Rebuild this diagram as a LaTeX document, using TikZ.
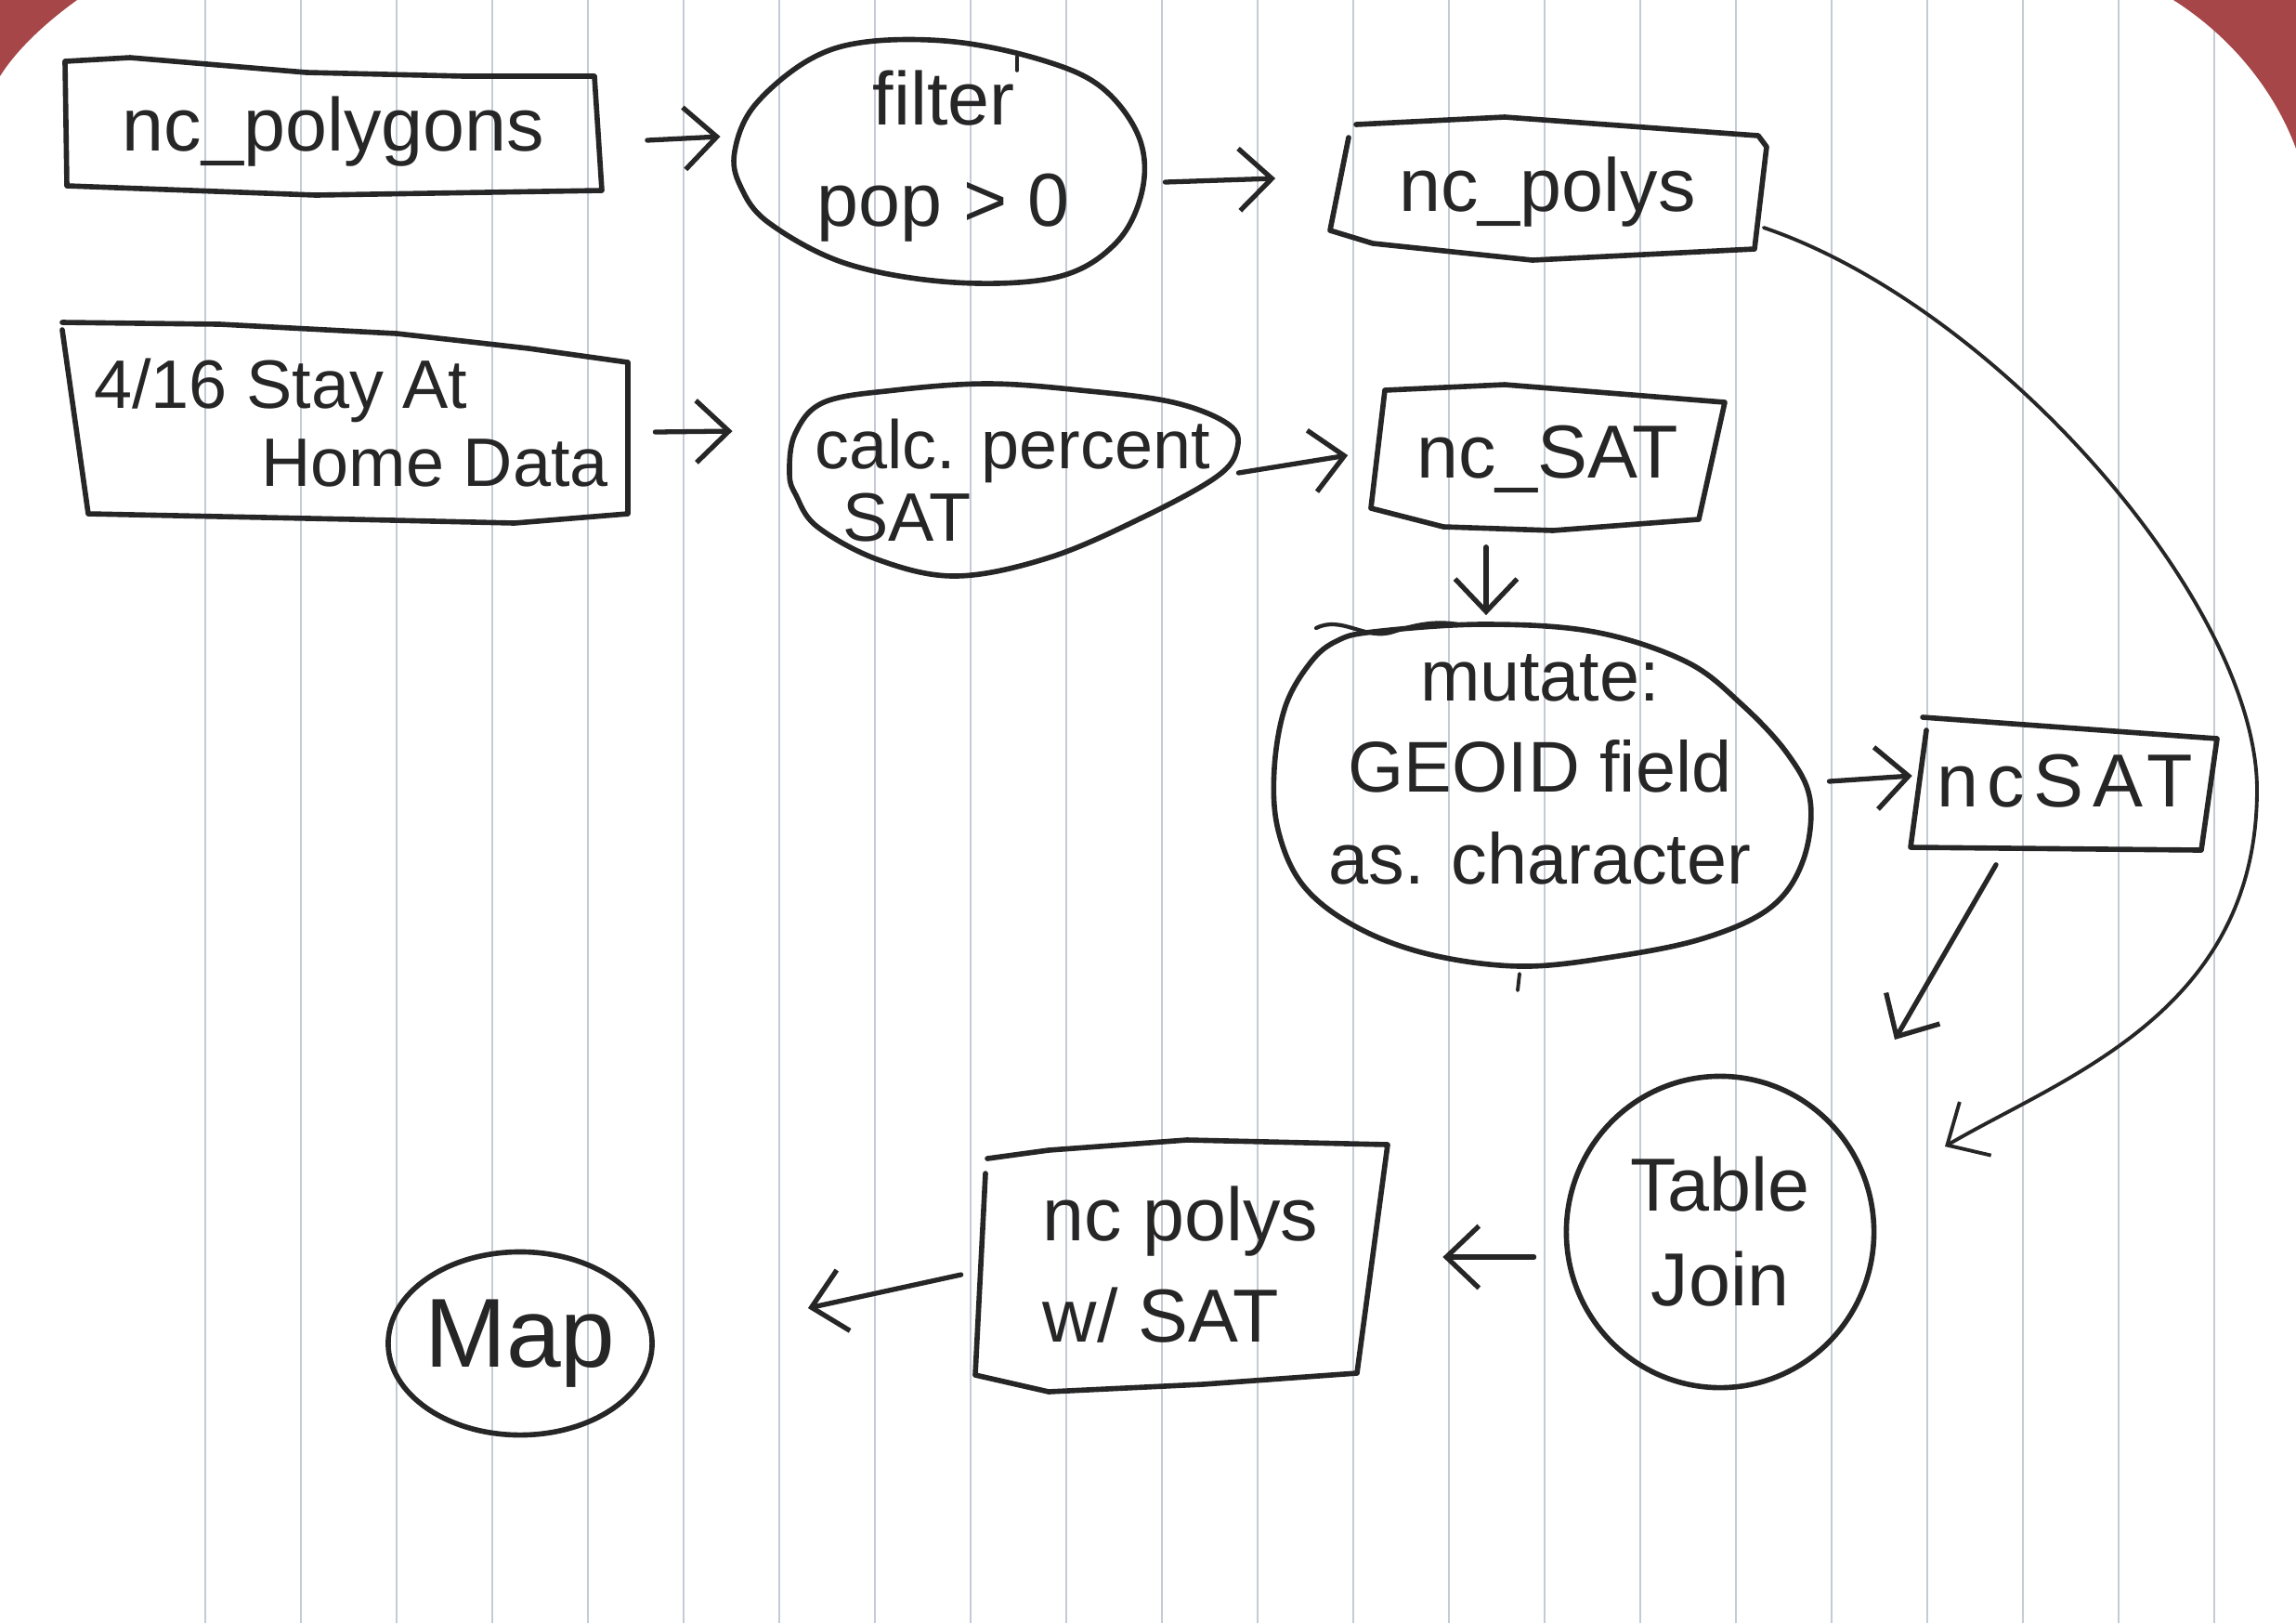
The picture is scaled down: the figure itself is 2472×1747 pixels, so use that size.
\documentclass[tikz,border=0pt]{standalone}
\usepackage{fontspec}
\setmainfont{Liberation Sans}
\usetikzlibrary{shapes.geometric,arrows.meta,calc}
\definecolor{ink}{RGB}{38,38,38}
\definecolor{rulecol}{RGB}{196,202,214}
\definecolor{deskred}{RGB}{166,70,72}
\begin{document}
\begin{tikzpicture}[x=0.01cm,y=-0.01cm,
  pen/.style={draw=ink, line width=1.6pt, line join=round, line cap=round},
  boxnode/.style={rectangle, inner sep=0pt, text=ink},
  blobnode/.style={pen, ellipse, inner sep=-1.5cm, text=ink},
  txt/.style={font=\fontsize{23}{29}\selectfont},
  arr/.style={draw=ink, line width=1.5pt, line cap=round, line join=round, -{Straight Barb[length=10pt,width=19pt]}},
  ruling/.style={draw=rulecol, line width=0.6pt}]
\useasboundingbox (0,0) rectangle (2472,1747);
\fill[white] (0,0) rectangle (2472,1747);
\foreach \k in {0,...,21} \draw[ruling] ({221+103*\k},0) -- ({221+103*\k},1747);
\fill[deskred] (0,0) -- (83,0) .. controls (55,20) and (20,50) .. (0,82) -- cycle;
\fill[deskred] (2340,0) .. controls (2400,38) and (2448,95) .. (2472,160) -- (2472,0) -- cycle;

% nodes (text holders; outlines drawn by hand below)
\node[boxnode, txt, align=center, minimum width=5.78cm, minimum height=1.30cm] (ncpolygons) at (359,142) {nc\_polygons};
\node[blobnode, draw=none, align=center, font=\fontsize{23}{31}\selectfont, minimum width=4.43cm, minimum height=2.63cm] (filter) at (1016,168) {filter\\pop > 0};
\node[boxnode, txt, align=center, minimum width=4.70cm, minimum height=1.40cm] (ncpolys) at (1666,207) {nc\_polys};
\node[boxnode, align=left, font=\fontsize{21}{24}\selectfont, minimum width=6.17cm, minimum height=2.14cm] (stay) at (378,455) {4/16 Stay At\\\hspace*{1.8cm}Home Data};
\node[blobnode, draw=none, align=left, font=\fontsize{21}{22}\selectfont, minimum width=4.85cm, minimum height=2.09cm] (calc) at (1090,517) {calc. percent\\\hspace*{0.3cm}SAT};
\node[boxnode, txt, align=center, minimum width=3.90cm, minimum height=1.50cm] (ncsat) at (1666,494) {nc\_SAT};
\node[blobnode, draw=none, align=center, font=\fontsize{22}{28}\selectfont, minimum width=5.87cm, minimum height=3.70cm] (mutate) at (1658,828) {mutate:\\GEOID field\\as. character};
\node[boxnode, txt, align=center, minimum width=3.31cm, minimum height=1.46cm] (ncsat2) at (2223,841) {\addfontfeature{LetterSpace=12}ncSAT};
\node[blobnode, txt, align=center, minimum width=3.31cm, minimum height=3.35cm] (tablejoin) at (1852,1326) {Table\\Join};
\node[boxnode, align=left, font=\fontsize{23}{31}\selectfont, minimum width=4.53cm, minimum height=2.57cm] (polysat) at (1271,1361) {nc polys\\w/ SAT};
\node[blobnode, align=center, font=\fontsize{30}{36}\selectfont, minimum width=2.84cm, minimum height=1.97cm] (map) at (560,1446) {Map};

% hand-drawn outlines
\draw[pen] (70,66) -- (140,62) -- (330,78) -- (500,82) -- (640,82) -- (648,205) -- (340,210) -- (72,200) -- cycle;
\draw[pen] plot[smooth cycle, tension=0.6] coordinates {(791,163) (812,114) (870,65) (933,45) (1028,45) (1123,65) (1186,94) (1226,147) (1230,204) (1202,261) (1139,298) (1028,304) (912,284) (828,240) (797,200)};
\draw[pen] (1460,134) -- (1620,126) -- (1893,146) -- (1902,158) -- (1889,268) -- (1650,280) -- (1478,262) -- (1432,248) -- (1452,148);
\draw[pen] (67,347) -- (237,349) -- (427,359) -- (569,375) -- (676,390) -- (676,553) -- (554,563) -- (380,559) -- (95,553) -- (67,355);
\draw[pen] plot[smooth cycle, tension=0.6] coordinates {(850,510) (856,467) (887,433) (963,420) (1063,413) (1163,420) (1263,433) (1323,457) (1332,483) (1310,513) (1230,557) (1130,600) (1030,620) (947,603) (880,567) (857,533)};
\draw[pen] (1491,420) -- (1620,414) -- (1857,433) -- (1829,559) -- (1672,571) -- (1554,567) -- (1476,547) -- cycle;
\draw[pen] plot[smooth cycle, tension=0.6] coordinates {(1479,680) (1597,672) (1716,680) (1815,712) (1875,758) (1925,812) (1949,862) (1941,927) (1906,977) (1834,1010) (1736,1030) (1637,1040) (1538,1027) (1459,997) (1403,953) (1376,893) (1372,827) (1384,760) (1411,713) (1439,690)};
\draw[pen] (2070,772) -- (2387,795) -- (2370,915) -- (2057,912) -- (2074,786);
\draw[pen] (1063,1247) -- (1129,1238) -- (1278,1227) -- (1494,1232) -- (1461,1478) -- (1295,1490) -- (1129,1498) -- (1050,1480) -- (1061,1263);

% connectors
\draw[arr] ($(ncpolygons.east)+(48,9)$) -- ($(filter.west)+(-16,-21)$);
\draw[arr] ($(filter.east)+(14,28)$) -- ($(ncpolys.west)+(-57,-15)$);
\draw[arr] ($(stay.east)+(18,10)$) -- ($(calc.west)+(-56,-53)$);
\draw[arr] ($(calc.east)+(-2,-8)$) -- ($(ncsat.west)+(-19,-4)$);
\draw[arr] ($(ncsat.south)+(-66,19)$) -- ($(mutate.north)+(-58,22)$);
\draw[arr] ($(mutate.east)+(15,13)$) -- ($(ncsat2.west)+(2,-6)$);
\draw[arr] ($(ncsat2.south)+(-74,16)$) -- ($(tablejoin.center)+(188,-207)$);
\draw[arr, line width=1.1pt] ($(ncpolys.east)+(-3,38)$) .. controls (2150,330) and (2430,650) .. (2430,850)
   .. controls (2430,1090) and (2220,1160) .. ($(tablejoin.center)+(242,-92)$);
\draw[arr] ($(tablejoin.west)+(-32,27)$) -- ($(polysat.east)+(55,-8)$);
\draw[arr] ($(polysat.west)+(-9,11)$) -- ($(map.east)+(165,-38)$);

% stray pen marks
\draw[pen, line width=1.2pt] (1417,676) .. controls (1445,662) and (1470,690) .. (1500,680) .. controls (1525,672) and (1545,668) .. (1570,672);
\draw[pen, line width=1.1pt] (1636,1048) -- (1634,1066);
\draw[pen, line width=1.0pt] (1095,61) -- (1095,76);
\end{tikzpicture}
\end{document}
